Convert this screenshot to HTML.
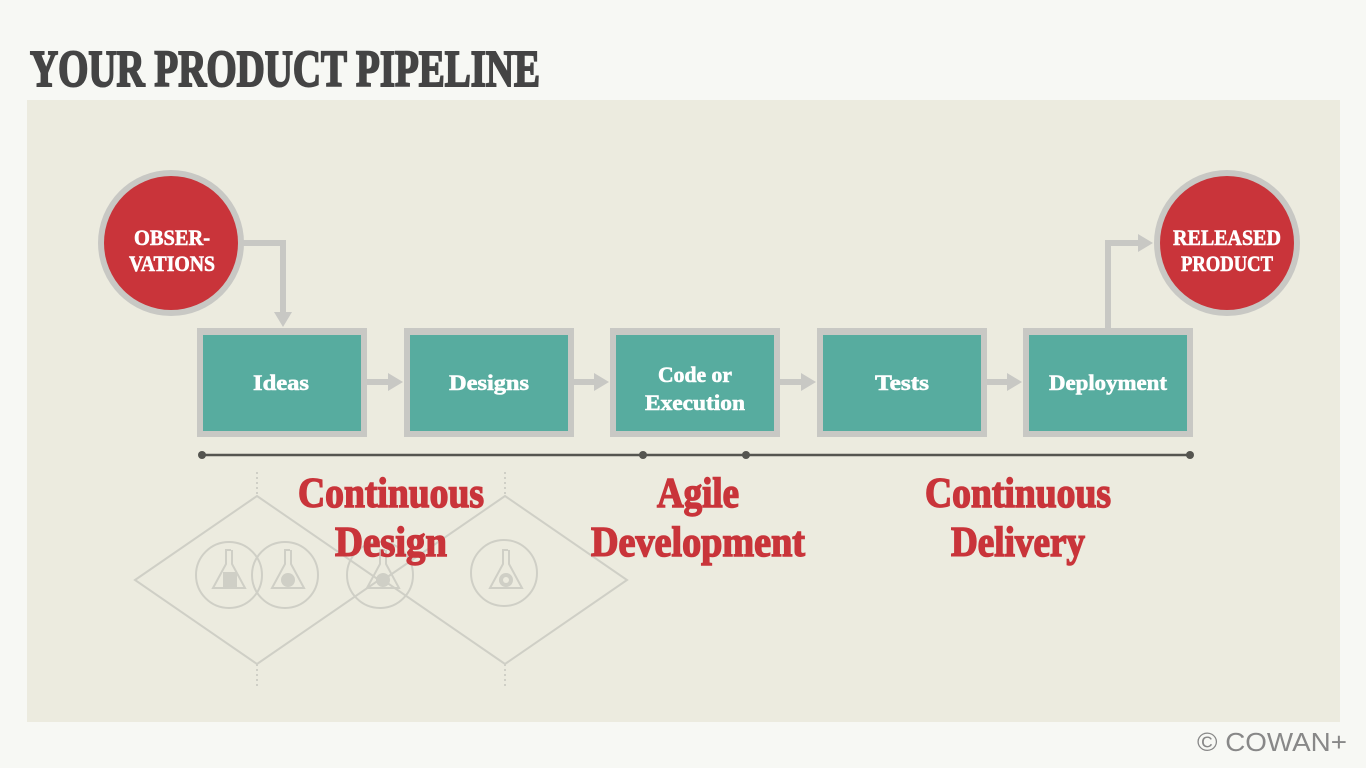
<!DOCTYPE html>
<html><head><meta charset="utf-8"><style>
html,body{margin:0;padding:0;background:#f7f8f4;}
svg{display:block}
.s{font-family:"Liberation Serif",serif;font-weight:bold}
</style></head><body>
<svg width="1366" height="768" viewBox="0 0 1366 768" xmlns="http://www.w3.org/2000/svg">
<rect x="0" y="0" width="1366" height="768" fill="#f7f8f4"/>
<text class="s" x="30" y="86" font-size="52" fill="#444" stroke="#444" stroke-width="2" textLength="510" lengthAdjust="spacingAndGlyphs">YOUR PRODUCT PIPELINE</text>
<rect x="27" y="100" width="1313" height="622" fill="#ecebdf"/>

<!-- diamonds -->
<g fill="none" stroke="#cfcfc6" stroke-width="2">
<polygon points="135,580 257,496 379,580 257,664"/>
<polygon points="383,580 505,496 627,580 505,664"/>
<g stroke-dasharray="2,3"><line x1="257" y1="472" x2="257" y2="496"/><line x1="257" y1="664" x2="257" y2="688"/><line x1="505" y1="472" x2="505" y2="496"/><line x1="505" y1="664" x2="505" y2="688"/></g>
<circle cx="229" cy="575" r="33"/><circle cx="285" cy="575" r="33"/><circle cx="380" cy="575" r="33"/><circle cx="504" cy="573" r="33"/>
<path d="M225,550 h6 M226,550 v14 l-13,24 h32 l-13,-24 v-14 M284,550 h6 M285,550 v14 l-13,24 h32 l-13,-24 v-14 M379,550 h6 M380,550 v14 l-13,24 h32 l-13,-24 v-14 M502,550 h6 M503,550 v14 l-13,24 h32 l-13,-24 v-14"/>
</g>
<g fill="#cfcfc6"><rect x="223" y="572" width="14" height="16"/><circle cx="288" cy="580" r="7"/><circle cx="383" cy="580" r="7"/><circle cx="506" cy="580" r="7"/></g>
<circle cx="506" cy="580" r="3" fill="#ecebdf"/>

<!-- connectors -->
<g fill="none" stroke="#c8c8c4" stroke-width="6">
<polyline points="240,243 283,243 283,314"/>
<polyline points="1108,330 1108,243 1140,243"/>
<line x1="367" y1="382" x2="390" y2="382"/><line x1="573" y1="382" x2="596" y2="382"/><line x1="780" y1="382" x2="803" y2="382"/><line x1="986" y1="382" x2="1009" y2="382"/>
</g>
<g fill="#c8c8c4">
<polygon points="274,312 292,312 283,327"/>
<polygon points="1138,234 1138,252 1153,243"/>
<polygon points="388,373 388,391 403,382"/><polygon points="594,373 594,391 609,382"/><polygon points="801,373 801,391 816,382"/><polygon points="1007,373 1007,391 1022,382"/>
</g>

<!-- boxes -->
<g>
<rect x="197" y="328" width="170" height="109" fill="#c8c8c4"/><rect x="203" y="335" width="158" height="96" fill="#57ac9f"/>
<rect x="404" y="328" width="170" height="109" fill="#c8c8c4"/><rect x="410" y="335" width="158" height="96" fill="#57ac9f"/>
<rect x="610" y="328" width="170" height="109" fill="#c8c8c4"/><rect x="616" y="335" width="158" height="96" fill="#57ac9f"/>
<rect x="817" y="328" width="170" height="109" fill="#c8c8c4"/><rect x="823" y="335" width="158" height="96" fill="#57ac9f"/>
<rect x="1023" y="328" width="170" height="109" fill="#c8c8c4"/><rect x="1029" y="335" width="158" height="96" fill="#57ac9f"/>
</g>
<g class="s" fill="#ffffff" stroke="#ffffff" stroke-width="0.6" font-size="22" text-anchor="middle">
<text x="281" y="390" textLength="56" lengthAdjust="spacingAndGlyphs">Ideas</text>
<text x="489" y="390" textLength="80" lengthAdjust="spacingAndGlyphs">Designs</text>
<text x="695" y="382" textLength="74" lengthAdjust="spacingAndGlyphs">Code or</text>
<text x="695" y="410" textLength="100" lengthAdjust="spacingAndGlyphs">Execution</text>
<text x="902" y="390" textLength="54" lengthAdjust="spacingAndGlyphs">Tests</text>
<text x="1108" y="390" textLength="118" lengthAdjust="spacingAndGlyphs">Deployment</text>
</g>

<!-- circles -->
<circle cx="171" cy="243" r="73" fill="#c8c8c4"/><circle cx="171" cy="243" r="67" fill="#c9343a"/>
<circle cx="1227" cy="243" r="73" fill="#c8c8c4"/><circle cx="1227" cy="243" r="67" fill="#c9343a"/>
<g class="s" fill="#ffffff" stroke="#ffffff" stroke-width="0.6" font-size="22" text-anchor="middle">
<text x="172" y="245" textLength="76" lengthAdjust="spacingAndGlyphs">OBSER-</text>
<text x="172" y="271" textLength="86" lengthAdjust="spacingAndGlyphs">VATIONS</text>
<text x="1227" y="245" textLength="108" lengthAdjust="spacingAndGlyphs">RELEASED</text>
<text x="1227" y="271" textLength="92" lengthAdjust="spacingAndGlyphs">PRODUCT</text>
</g>

<!-- timeline -->
<line x1="202" y1="455" x2="1190" y2="455" stroke="#555550" stroke-width="2.5"/>
<g fill="#555550"><circle cx="202" cy="455" r="4"/><circle cx="643" cy="455" r="4"/><circle cx="746" cy="455" r="4"/><circle cx="1190" cy="455" r="4"/></g>

<g class="s" fill="#c9343a" stroke="#c9343a" stroke-width="1.5" font-size="42" text-anchor="middle">
<text x="391" y="507" textLength="186" lengthAdjust="spacingAndGlyphs">Continuous</text>
<text x="391" y="556" textLength="112" lengthAdjust="spacingAndGlyphs">Design</text>
<text x="698" y="507" textLength="82" lengthAdjust="spacingAndGlyphs">Agile</text>
<text x="698" y="556" textLength="214" lengthAdjust="spacingAndGlyphs">Development</text>
<text x="1018" y="507" textLength="186" lengthAdjust="spacingAndGlyphs">Continuous</text>
<text x="1018" y="556" textLength="134" lengthAdjust="spacingAndGlyphs">Delivery</text>
</g>

<text x="1197" y="751" font-family="Liberation Sans, sans-serif" font-size="26" fill="#888" textLength="150" lengthAdjust="spacingAndGlyphs">© COWAN+</text>
</svg>
</body></html>
